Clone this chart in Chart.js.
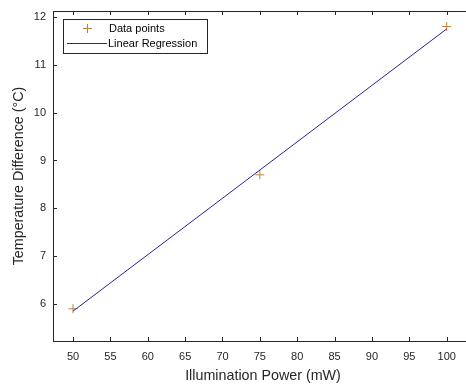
<!DOCTYPE html>
<html>
<head>
<meta charset="utf-8">
<script src="https://cdn.jsdelivr.net/npm/chart.js@4.4.0/dist/chart.umd.min.js"></script>
<style>
  html, body { margin: 0; padding: 0; background: #fff; }
</style>
</head>
<body>
<canvas id="regChart" width="466" height="388"></canvas>
<script>
// Measured temperature rise against illumination power
const powerMw = [50, 75, 100];
const tempDiff = [5.9, 8.7, 11.8];

// Fitted straight line, end points
const fitPower = [50, 100];
const fitTemp = [5.85, 11.75];

// Axis tick labels
const xTicks = [50, 55, 60, 65, 70, 75, 80, 85, 90, 95, 100];
const yTicks = [6, 7, 8, 9, 10, 11, 12];

const axisColor = '#262626';
const markerColor = '#c0823a';
const lineColor = '#24249c';
const fontFamily = "'Liberation Sans', Arial, Helvetica, sans-serif";

const toPoints = (xs, ys) => xs.map((v, i) => ({ x: v, y: ys[i] }));

// box edge, inward tick marks and the legend (MATLAB look)
const frameAndLegend = {
    id: 'frameAndLegend',
    // the axes box runs a few pixels past the right edge of the canvas
    afterLayout(chart) {
        const extra = 7;
        const x = chart.scales.x;
        x.right += extra;
        x.width += extra;
        chart.chartArea.right += extra;
        chart.chartArea.width += extra;
        x.configure();
    },
    afterDraw(chart) {
        const { ctx, chartArea: a, scales: { x, y } } = chart;
        ctx.save();
        ctx.strokeStyle = axisColor;
        ctx.lineWidth = 1;
        ctx.beginPath();
        ctx.moveTo(a.left, Math.round(a.top) + 0.5);
        ctx.lineTo(a.right, Math.round(a.top) + 0.5);
        xTicks.forEach(v => {
            const px = Math.round(x.getPixelForValue(v)) + 0.5;
            ctx.moveTo(px, a.bottom); ctx.lineTo(px, a.bottom - 4);
            ctx.moveTo(px, a.top); ctx.lineTo(px, a.top + 4);
        });
        yTicks.forEach(v => {
            const py = Math.round(y.getPixelForValue(v)) + 0.5;
            ctx.moveTo(a.left, py); ctx.lineTo(a.left + 4, py);
        });
        ctx.stroke();

        // legend
        const lx = 63.5, ly = 19.5, lw = 144, lh = 34;
        ctx.fillStyle = '#fff';
        ctx.fillRect(lx, ly, lw, lh);
        ctx.strokeStyle = axisColor;
        ctx.strokeRect(lx, ly, lw, lh);

        const ds = chart.data.datasets;
        // marker entry
        ctx.strokeStyle = markerColor;
        ctx.beginPath();
        ctx.moveTo(83, 28.5); ctx.lineTo(92, 28.5);
        ctx.moveTo(87.5, 24); ctx.lineTo(87.5, 33);
        ctx.stroke();
        // line entry
        ctx.strokeStyle = lineColor;
        ctx.beginPath();
        ctx.moveTo(67, 43.5); ctx.lineTo(107, 43.5);
        ctx.stroke();

        ctx.fillStyle = '#000';
        ctx.font = '11px ' + fontFamily;
        ctx.textBaseline = 'middle';
        ctx.fillText(ds[0].label, 109, 29);
        ctx.fillText(ds[1].label, 108, 44);
        ctx.restore();
    }
};

new Chart(document.getElementById('regChart'), {
    type: 'scatter',
    data: {
        datasets: [{
            label: 'Data points',
            data: toPoints(powerMw, tempDiff),
            pointStyle: 'cross',
            pointRadius: 4.5,
            pointBorderWidth: 1,
            pointBorderColor: markerColor,
            showLine: false,
            order: 1
        }, {
            label: 'Linear Regression',
            data: toPoints(fitPower, fitTemp),
            showLine: true,
            borderColor: lineColor,
            borderWidth: 1,
            pointRadius: 0,
            order: 0
        }]
    },
    options: {
        responsive: false,
        animation: false,
        layout: { autoPadding: false, padding: { top: 11, right: 0, left: 0, bottom: 0 } },
        plugins: {
            legend: { display: false },
            tooltip: { enabled: false }
        },
        scales: {
            x: {
                type: 'linear',
                min: 47.32,
                max: 103.52,
                afterBuildTicks: s => { s.ticks = xTicks.map(v => ({ value: v })); },
                afterFit: s => { s.height = 47; s.paddingLeft = 0; s.paddingRight = 0; },
                grid: { display: false, drawTicks: false },
                border: { display: true, color: axisColor, width: 1 },
                ticks: {
                    autoSkip: false,
                    maxRotation: 0,
                    padding: 9,
                    color: axisColor,
                    font: { family: fontFamily, size: 11 }
                },
                title: {
                    display: true,
                    text: 'Illumination Power (mW)',
                    color: axisColor,
                    font: { family: fontFamily, size: 14.3 },
                    padding: { top: 0, bottom: 3.5 }
                }
            },
            y: {
                type: 'linear',
                min: 5.226,
                max: 12.125,
                afterBuildTicks: s => { s.ticks = yTicks.map(v => ({ value: v })); },
                afterFit: s => { s.width = 53; s.paddingTop = 0; s.paddingBottom = 0; },
                grid: { display: false, drawTicks: false },
                border: { display: true, color: axisColor, width: 1 },
                ticks: {
                    autoSkip: false,
                    padding: 7,
                    color: axisColor,
                    font: { family: fontFamily, size: 11 }
                },
                title: {
                    display: true,
                    text: 'Temperature Difference (°C)',
                    color: axisColor,
                    font: { family: fontFamily, size: 14.3 },
                    padding: { top: 10.5, bottom: 0 }
                }
            }
        }
    },
    plugins: [frameAndLegend]
});
</script>
</body>
</html>
